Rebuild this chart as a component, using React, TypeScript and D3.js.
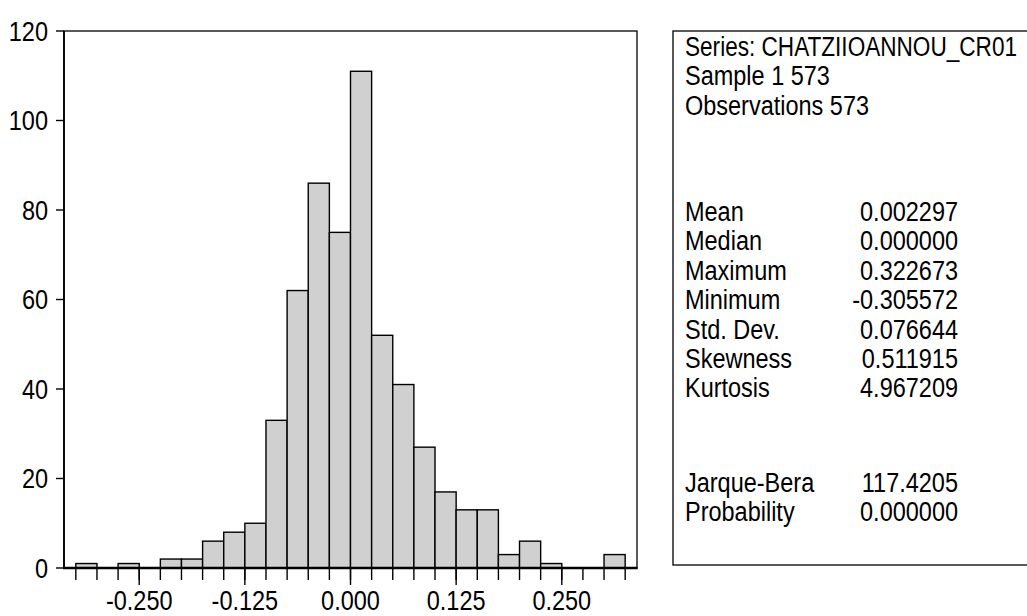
import React from "react";
import * as d3 from "d3";

// Histogram bins: lower edges (width 0.025) and counts
const binStarts = [
  -0.325, -0.3, -0.275, -0.25, -0.225, -0.2, -0.175, -0.15, -0.125, -0.1,
  -0.075, -0.05, -0.025, 0.0, 0.025, 0.05, 0.075, 0.1, 0.125, 0.15, 0.175,
  0.2, 0.225, 0.25, 0.275, 0.3,
];
const counts = [
  1, 0, 1, 0, 2, 2, 6, 8, 10, 33, 62, 86, 75, 111, 52, 41, 27, 17, 13, 13, 3,
  6, 1, 0, 0, 3,
];
const binWidth = 0.025;

const yTicks = [0, 20, 40, 60, 80, 100, 120];
const xMinorTicks = d3.range(-13, 14).map((k) => k * 0.025);
const xMajorTicks = [-0.25, -0.125, 0, 0.125, 0.25];

const headerLines = ["Series: CHATZIIOANNOU_CR01", "Sample 1 573", "Observations 573"];
const statNames = ["Mean", "Median", "Maximum", "Minimum", "Std. Dev.", "Skewness", "Kurtosis"];
const statValues = ["0.002297", "0.000000", "0.322673", "-0.305572", "0.076644", "0.511915", "4.967209"];
const testNames = ["Jarque-Bera", "Probability"];
const testValues = ["117.4205", "0.000000"];

const W = 1027;
const H = 616;
const plot = { left: 64, right: 637, top: 31, bottom: 568 };
const FONT = "'Liberation Sans', Arial, sans-serif";
const FS = 27;
const SX = 0.87;

function Txt({
  x,
  y,
  anchor = "start",
  length,
  children,
}: {
  x: number;
  y: number;
  anchor?: string;
  length?: number;
  children: React.ReactNode;
}) {
  return (
    <text
      transform={`translate(${x},${y}) scale(${SX},1)`}
      textAnchor={anchor as any}
      fontFamily={FONT}
      fontSize={FS}
      fill="#000"
      textLength={length ? length / SX : undefined}
      lengthAdjust={length ? "spacingAndGlyphs" : undefined}
    >
      {children}
    </text>
  );
}

export default function App() {
  const x = d3.scaleLinear().domain([-0.339, 0.339]).range([plot.left, plot.right]);
  const y = d3.scaleLinear().domain([0, 120]).range([plot.bottom, plot.top]);

  const box = { left: 673, top: 31, bottom: 565, right: 1040 };
  const labelX = 685;
  const valueX = 958;
  const lineH = 29.4;
  const headerBase = 56;
  const statBase = 221;
  const testBase = 492;

  return (
    <svg
      width={W}
      height={H}
      viewBox={`0 0 ${W} ${H}`}
      style={{ position: "absolute", left: 0, top: 0, background: "#fff" }}
    >
      <rect x={0} y={0} width={W} height={H} fill="#fff" />

      {/* bars */}
      {counts.map((c, i) =>
        c > 0 ? (
          <rect
            key={i}
            x={x(binStarts[i])}
            y={y(c)}
            width={x(binStarts[i] + binWidth) - x(binStarts[i])}
            height={y(0) - y(c)}
            fill="#d0d0d0"
            stroke="#000"
            strokeWidth={1.4}
          />
        ) : null
      )}

      {/* plot frame */}
      <rect
        x={plot.left}
        y={plot.top}
        width={plot.right - plot.left}
        height={plot.bottom - plot.top}
        fill="none"
        stroke="#000"
        strokeWidth={1.3}
      />
      <line x1={plot.left} x2={plot.left} y1={plot.top} y2={plot.bottom} stroke="#000" strokeWidth={1.8} />
      <line x1={plot.left - 1} x2={plot.right + 0.6} y1={plot.bottom} y2={plot.bottom} stroke="#000" strokeWidth={2.6} />

      {/* y axis */}
      {yTicks.map((t) => (
        <g key={t}>
          <line x1={plot.left - 8} x2={plot.left} y1={y(t)} y2={y(t)} stroke="#000" strokeWidth={1.4} />
          <Txt x={48} y={y(t) + 9.5} anchor="end">
            {t}
          </Txt>
        </g>
      ))}

      {/* x axis */}
      {xMinorTicks.map((t, i) => (
        <line key={i} x1={x(t)} x2={x(t)} y1={plot.bottom} y2={plot.bottom + 12} stroke="#000" strokeWidth={1.4} />
      ))}
      {xMajorTicks.map((t) => (
        <g key={t}>
          <line x1={x(t)} x2={x(t)} y1={plot.bottom} y2={plot.bottom + 17} stroke="#000" strokeWidth={1.4} />
          <Txt x={x(t)} y={610} anchor="middle">
            {d3.format(".3f")(t).replace("−", "-")}
          </Txt>
        </g>
      ))}

      {/* statistics panel */}
      <rect
        x={box.left}
        y={box.top}
        width={box.right - box.left}
        height={box.bottom - box.top}
        fill="none"
        stroke="#000"
        strokeWidth={1.3}
      />
      {headerLines.map((s, i) => (
        <Txt key={s} x={labelX} y={headerBase + i * lineH} length={i === 0 ? 332 : undefined}>
          {s}
        </Txt>
      ))}
      {statNames.map((s, i) => (
        <g key={s}>
          <Txt x={labelX} y={statBase + i * lineH}>
            {s}
          </Txt>
          <Txt x={valueX} y={statBase + i * lineH} anchor="end">
            {statValues[i]}
          </Txt>
        </g>
      ))}
      {testNames.map((s, i) => (
        <g key={s}>
          <Txt x={labelX} y={testBase + i * lineH}>
            {s}
          </Txt>
          <Txt x={valueX} y={testBase + i * lineH} anchor="end">
            {testValues[i]}
          </Txt>
        </g>
      ))}
    </svg>
  );
}
